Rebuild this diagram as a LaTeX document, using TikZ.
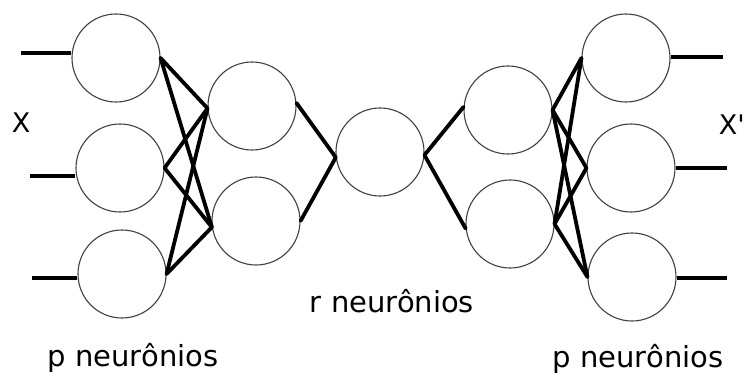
\documentclass[tikz,border=0pt]{standalone}
\usepackage{fontspec}
\setmainfont{DejaVu Sans}
\newfontfamily\plainsans{DejaVu Sans}
\begin{document}
\begin{tikzpicture}[x=1pt,y=-1pt,
  neuron/.style={circle,draw=black!75,line width=1.1pt,minimum size=88pt,inner sep=0pt},
  link/.style={line width=3.8pt,line cap=round,line join=round},
  lbl/.style={font=\fontsize{29}{34}\selectfont,inner sep=0pt,anchor=base}]
\path[use as bounding box,fill=white] (0,0) rectangle (746,374);
% nodes
\node[neuron] (L1) at (116,58) {};
\node[neuron] (L2) at (120,168) {};
\node[neuron] (L3) at (122,274) {};
\node[neuron] (M1) at (252,106) {};
\node[neuron] (M2) at (256,221) {};
\node[neuron] (C) at (380,152) {};
\node[neuron] (N1) at (508,110) {};
\node[neuron] (N2) at (510,224) {};
\node[neuron] (R1) at (626,58) {};
\node[neuron] (R2) at (631,168) {};
\node[neuron] (R3) at (632,277) {};
% free ends
\coordinate (i1) at (21,53);
\coordinate (i2) at (30,176);
\coordinate (i3) at (32,278);
\coordinate (o1) at (723,57);
\coordinate (o2) at (727,168);
\coordinate (o3) at (727,278);
\draw[link,line cap=butt] (i1) -- (L1.west|-i1);
\draw[link,line cap=butt] (i2) -- (L2.west|-i2);
\draw[link,line cap=butt] (i3) -- (L3.west|-i3);
\draw[link,line cap=butt] (R1.east|-o1) -- (o1);
\draw[link,line cap=butt] (R2.east|-o2) -- (o2);
\draw[link,line cap=butt] (R3.east|-o3) -- (o3);
% left connections
\foreach \a in {L1,L2,L3}{
  \draw[link] (\a.east) -- (M1.183);
  \draw[link] (\a.east) -- (M2.188);
}
\draw[link] (M1.4) -- (C.187);
\draw[link] (M2.east) -- (C.187);
\draw[link] (C.356) -- (N1.176);
\draw[link] (C.356) -- (N2.186);
\foreach \b in {R1,R2,R3}{
  \draw[link] (N1.east) -- (\b.west);
  \draw[link] (N2.east) -- (\b.west);
}
% labels
\node[lbl,font=\fontsize{27}{32}\selectfont] (x) at (21,133) {X};
\node[lbl,font=\plainsans\fontsize{27}{32}\selectfont,anchor=base east] (xp) at (745,135) {X'};
\node[lbl] (r) at (392,312) {r neurônios};
\node[lbl] (p1) at (133,366) {p neurônios};
\node[lbl] (p2) at (638,367) {p neurônios};
\end{tikzpicture}
\end{document}
